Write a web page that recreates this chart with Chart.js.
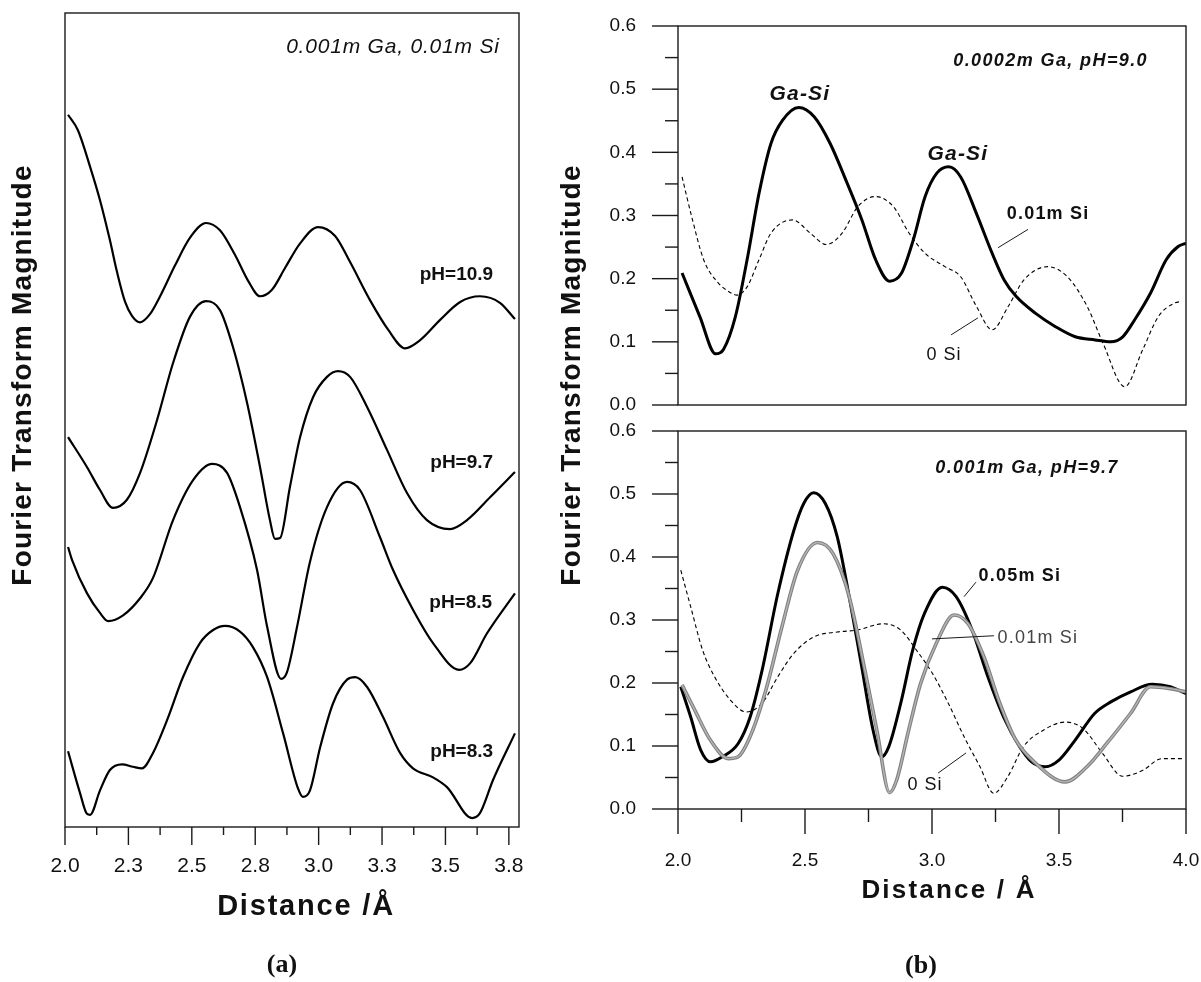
<!DOCTYPE html>
<html>
<head>
<meta charset="utf-8">
<script src="https://cdn.jsdelivr.net/npm/chart.js@4.4.1/dist/chart.umd.min.js"></script>
<style>
  body { margin: 0; background: #fff; }
  #lienzo { position: relative; width: 1201px; height: 982px; background: #fff; }
  #lienzo canvas { position: absolute; }
</style>
</head>
<body>
<div id="lienzo">
  <canvas id="graficoA" width="600" height="982" style="left:0;top:0;width:600px;height:982px"></canvas>
  <canvas id="graficoB1" width="601" height="420" style="left:600px;top:0;width:601px;height:420px"></canvas>
  <canvas id="graficoB2" width="601" height="562" style="left:600px;top:420px;width:601px;height:562px"></canvas>
</div>
<script>
// ---- Datos panel (a): curvas desplazadas, unidades arbitrarias ----
const dist_pH109 = [2.012,2.051,2.099,2.138,2.177,2.205,2.237,2.264,2.296,2.335,2.375,2.434,2.493,2.556,2.611,2.670,2.722,2.769,2.816,2.868,2.927,2.998,3.065,3.124,3.203,3.274,3.341,3.400,3.479,3.558,3.636,3.715,3.774];
const mag_pH109  = [8.75,8.56,8.11,7.70,7.21,6.82,6.45,6.28,6.20,6.30,6.52,6.90,7.24,7.42,7.33,7.03,6.71,6.52,6.60,6.87,7.17,7.37,7.26,6.94,6.47,6.11,5.88,5.98,6.23,6.45,6.52,6.44,6.24];

const dist_pH97 = [2.012,2.087,2.138,2.189,2.244,2.296,2.363,2.426,2.493,2.556,2.611,2.662,2.718,2.769,2.808,2.828,2.848,2.887,2.927,2.978,3.033,3.076,3.124,3.191,3.270,3.349,3.427,3.518,3.585,3.676,3.774];
const mag_pH97  = [4.79,4.42,4.14,3.92,4.02,4.35,5.00,5.70,6.27,6.46,6.35,5.90,5.21,4.42,3.77,3.54,3.55,4.18,4.79,5.28,5.53,5.60,5.53,5.16,4.63,4.10,3.77,3.66,3.77,4.05,4.36];

const dist_pH85 = [2.012,2.028,2.087,2.138,2.170,2.229,2.296,2.347,2.426,2.505,2.580,2.639,2.690,2.757,2.797,2.852,2.875,2.915,2.966,3.033,3.112,3.163,3.242,3.293,3.372,3.451,3.554,3.597,3.664,3.774];
const mag_pH85  = [3.44,3.28,2.87,2.63,2.53,2.60,2.81,3.06,3.77,4.26,4.46,4.35,3.93,3.16,2.46,1.82,1.90,2.46,3.26,3.93,4.24,4.14,3.56,3.16,2.67,2.26,1.93,2.01,2.38,2.87];

const dist_pH83 = [2.012,2.059,2.087,2.099,2.138,2.177,2.225,2.268,2.304,2.347,2.402,2.465,2.532,2.584,2.631,2.690,2.741,2.797,2.860,2.919,2.938,2.966,3.006,3.057,3.112,3.144,3.191,3.254,3.321,3.372,3.451,3.506,3.605,3.636,3.688,3.774];
const mag_pH83  = [0.93,0.42,0.16,0.15,0.45,0.70,0.77,0.74,0.72,0.91,1.31,1.84,2.26,2.42,2.47,2.40,2.21,1.84,1.15,0.47,0.37,0.45,0.98,1.52,1.81,1.84,1.72,1.35,0.91,0.72,0.61,0.49,0.11,0.17,0.58,1.15];

// ---- Datos panel (b) arriba: 0.0002m Ga, pH=9.0 ----
const dist_b1_Si001 = [2.016,2.086,2.148,2.179,2.226,2.272,2.319,2.366,2.412,2.475,2.537,2.599,2.661,2.724,2.778,2.833,2.879,2.926,2.973,3.019,3.066,3.113,3.175,3.237,3.284,3.331,3.408,3.486,3.564,3.642,3.704,3.751,3.798,3.860,3.922,3.969,4.0];
const mag_b1_Si001  = [0.209,0.140,0.081,0.088,0.140,0.230,0.335,0.414,0.451,0.471,0.456,0.414,0.356,0.293,0.230,0.196,0.208,0.261,0.330,0.367,0.377,0.361,0.303,0.240,0.198,0.172,0.145,0.124,0.108,0.103,0.100,0.108,0.135,0.177,0.230,0.251,0.256];
const dist_b1_Si0 = [2.016,2.054,2.101,2.148,2.210,2.233,2.272,2.319,2.366,2.451,2.521,2.584,2.646,2.708,2.778,2.848,2.910,2.973,3.051,3.113,3.175,3.237,3.300,3.362,3.455,3.533,3.611,3.673,3.759,3.829,3.891,3.953,3.984];
const mag_b1_Si0  = [0.361,0.298,0.230,0.198,0.177,0.174,0.187,0.230,0.272,0.293,0.272,0.254,0.272,0.314,0.330,0.314,0.272,0.240,0.219,0.203,0.156,0.119,0.156,0.198,0.219,0.203,0.156,0.098,0.029,0.087,0.140,0.161,0.164];

// ---- Datos panel (b) abajo: 0.001m Ga, pH=9.7 ----
const dist_b2_Si005 = [2.011,2.05,2.089,2.128,2.175,2.237,2.284,2.331,2.393,2.456,2.495,2.534,2.580,2.627,2.674,2.721,2.768,2.802,2.830,2.877,2.924,2.970,3.041,3.095,3.158,3.220,3.282,3.345,3.392,3.446,3.501,3.563,3.641,3.704,3.782,3.867,3.938,4.0];
const mag_b2_Si005  = [0.194,0.146,0.094,0.075,0.083,0.104,0.146,0.220,0.342,0.442,0.485,0.502,0.485,0.432,0.337,0.231,0.125,0.083,0.099,0.168,0.252,0.310,0.352,0.337,0.284,0.210,0.146,0.099,0.075,0.067,0.078,0.109,0.152,0.170,0.186,0.198,0.194,0.183];
const dist_b2_Si001 = [2.016,2.066,2.128,2.198,2.237,2.284,2.346,2.409,2.471,2.549,2.611,2.674,2.736,2.783,2.833,2.861,2.908,2.955,3.017,3.087,3.142,3.204,3.267,3.329,3.407,3.524,3.610,3.688,3.782,3.860,3.938,4.0];
const mag_b2_Si001  = [0.197,0.157,0.109,0.080,0.083,0.115,0.189,0.289,0.379,0.423,0.405,0.337,0.220,0.125,0.026,0.046,0.125,0.199,0.263,0.308,0.294,0.242,0.168,0.110,0.073,0.043,0.067,0.104,0.152,0.194,0.191,0.186];
const dist_b2_Si0 = [2.011,2.05,2.097,2.144,2.206,2.268,2.331,2.393,2.456,2.534,2.627,2.705,2.807,2.877,2.939,3.002,3.064,3.126,3.189,3.243,3.298,3.360,3.438,3.524,3.594,3.672,3.750,3.828,3.906,3.984];
const mag_b2_Si0  = [0.379,0.321,0.252,0.210,0.173,0.154,0.168,0.210,0.247,0.273,0.281,0.284,0.294,0.284,0.252,0.215,0.168,0.115,0.067,0.025,0.051,0.099,0.125,0.138,0.128,0.088,0.052,0.061,0.080,0.080];

// ---- Marcas de los ejes ----
const ticksXIzq = [2.0, 2.25, 2.5, 2.75, 3.0, 3.25, 3.5, 3.75];
const etiquetasXIzq = ['2.0', '2.3', '2.5', '2.8', '3.0', '3.3', '3.5', '3.8'];
const menoresXIzq = [2.125, 2.375, 2.625, 2.875, 3.125, 3.375, 3.625];
const ticksXDer = [2.0, 2.5, 3.0, 3.5, 4.0];
const etiquetasXDer = ['2.0', '2.5', '3.0', '3.5', '4.0'];
const menoresXDer = [2.25, 2.75, 3.25, 3.75];
const ticksYDer = [0, 0.1, 0.2, 0.3, 0.4, 0.5, 0.6];
const etiquetasYDer = ['0.0', '0.1', '0.2', '0.3', '0.4', '0.5', '0.6'];
const menoresYDer = [0.05, 0.15, 0.25, 0.35, 0.45, 0.55];

const SANS = '"Liberation Sans", Arial, sans-serif';
const SERIF = '"Liberation Serif", "Times New Roman", serif';
Chart.defaults.font.family = SANS;
Chart.defaults.color = '#111';

function puntos(xs, ys) {
  return xs.map((x, i) => ({ x: x, y: ys[i] }));
}

function serie(xs, ys, estilo) {
  return Object.assign({
    data: puntos(xs, ys),
    borderColor: '#000',
    borderWidth: 2.2,
    pointRadius: 0,
    fill: false,
    cubicInterpolationMode: 'monotone'
  }, estilo);
}

function dibujarTexto(ctx, t, x, y) {
  ctx.save();
  ctx.font = t.fuente;
  ctx.fillStyle = t.color || '#111';
  ctx.textAlign = t.alinear || 'center';
  ctx.textBaseline = 'middle';
  ctx.letterSpacing = t.espaciado || '0px';
  ctx.translate(x, y);
  if (t.girar) ctx.rotate(t.girar);
  ctx.fillText(t.texto, 0, 0);
  ctx.restore();
}

// Plugin: marco, marcas mayores/menores, notas y rótulos
function crearMarco(cfg) {
  return {
    id: 'marco',
    afterDraw(chart) {
      const ctx = chart.ctx, a = chart.chartArea;
      const sx = chart.scales.x, sy = chart.scales.y;
      const raya = (x1, y1, x2, y2) => { ctx.beginPath(); ctx.moveTo(x1, y1); ctx.lineTo(x2, y2); ctx.stroke(); };
      ctx.save();
      ctx.strokeStyle = '#1a1a1a';
      ctx.lineWidth = 1.4;
      ctx.strokeRect(a.left, a.top, a.right - a.left, a.bottom - a.top);
      (cfg.xMayores || []).forEach(v => { const p = sx.getPixelForValue(v); raya(p, a.bottom, p, a.bottom + cfg.largoX[0]); });
      (cfg.xMenores || []).forEach(v => { const p = sx.getPixelForValue(v); raya(p, a.bottom, p, a.bottom + cfg.largoX[1]); });
      (cfg.yMayores || []).forEach(v => { const p = sy.getPixelForValue(v); raya(a.left - cfg.largoY[0], p, a.left, p); });
      (cfg.yMenores || []).forEach(v => { const p = sy.getPixelForValue(v); raya(a.left - cfg.largoY[1], p, a.left, p); });
      ctx.lineWidth = 1;
      (cfg.guias || []).forEach(g => raya(sx.getPixelForValue(g[0]), sy.getPixelForValue(g[1]), sx.getPixelForValue(g[2]), sy.getPixelForValue(g[3])));
      (cfg.notas || []).forEach(t => dibujarTexto(ctx, t, sx.getPixelForValue(t.x), sy.getPixelForValue(t.y)));
      (cfg.rotulos || []).forEach(t => dibujarTexto(ctx, t, t.x, t.y));
      ctx.restore();
    }
  };
}

function ejeFijo(medida, valor) {
  return function(scale) {
    scale[medida] = valor;
    scale.paddingTop = 0; scale.paddingBottom = 0; scale.paddingLeft = 0; scale.paddingRight = 0;
  };
}

const opcionesBase = {
  responsive: false,
  animation: false,
  devicePixelRatio: 1,
  plugins: { legend: { display: false }, tooltip: { enabled: false } }
};

// ---------- Panel (a) ----------
new Chart(document.getElementById('graficoA'), {
  type: 'line',
  data: {
    datasets: [
      serie(dist_pH109, mag_pH109, {}),
      serie(dist_pH97, mag_pH97, {}),
      serie(dist_pH85, mag_pH85, {}),
      serie(dist_pH83, mag_pH83, {})
    ]
  },
  options: Object.assign({}, opcionesBase, {
    layout: { padding: { left: 65, top: 13, right: 81, bottom: 0 } },
    scales: {
      x: {
        type: 'linear', min: 2.0, max: 3.79,
        afterBuildTicks: s => { s.ticks = ticksXIzq.map(v => ({ value: v })); },
        afterFit: ejeFijo('height', 155),
        grid: { display: false, drawTicks: false },
        border: { display: false },
        ticks: { padding: 27, font: { size: 21 }, maxRotation: 0, callback: (v, i) => etiquetasXIzq[i] }
      },
      y: { type: 'linear', min: 0, max: 10, display: false }
    }
  }),
  plugins: [crearMarco({
    xMayores: ticksXIzq, xMenores: menoresXIzq, largoX: [18, 8],
    notas: [
      { texto: '0.001m Ga, 0.01m Si', x: 3.293, y: 9.58, fuente: 'italic 21px ' + SANS, espaciado: '0.8px' },
      { texto: 'pH=10.9', x: 3.688, y: 6.78, alinear: 'right', fuente: 'bold 19px ' + SANS },
      { texto: 'pH=9.7', x: 3.688, y: 4.47, alinear: 'right', fuente: 'bold 19px ' + SANS },
      { texto: 'pH=8.5', x: 3.684, y: 2.75, alinear: 'right', fuente: 'bold 19px ' + SANS },
      { texto: 'pH=8.3', x: 3.688, y: 0.92, alinear: 'right', fuente: 'bold 19px ' + SANS }
    ],
    rotulos: [
      { texto: 'Fourier Transform Magnitude', x: 23, y: 375, girar: -Math.PI / 2, fuente: 'bold 28px ' + SANS, espaciado: '1.2px' },
      { texto: 'Fourier Transform Magnitude', x: 572, y: 375, girar: -Math.PI / 2, fuente: 'bold 28px ' + SANS, espaciado: '1.2px' },
      { texto: 'Distance /Å', x: 306, y: 907, fuente: 'bold 29px ' + SANS, espaciado: '1.8px' },
      { texto: '(a)', x: 282, y: 965, fuente: 'bold 26px ' + SERIF }
    ]
  })]
});

// ---------- Panel (b) arriba ----------
new Chart(document.getElementById('graficoB1'), {
  type: 'line',
  data: {
    datasets: [
      serie(dist_b1_Si001, mag_b1_Si001, { borderWidth: 3 }),
      serie(dist_b1_Si0, mag_b1_Si0, { borderWidth: 1.1, borderDash: [4, 3] })
    ]
  },
  options: Object.assign({}, opcionesBase, {
    layout: { padding: { left: 0, top: 26, right: 15, bottom: 15 } },
    scales: {
      x: { type: 'linear', min: 2.0, max: 4.0, display: false },
      y: {
        type: 'linear', min: 0, max: 0.6,
        afterBuildTicks: s => { s.ticks = ticksYDer.map(v => ({ value: v })); },
        afterFit: ejeFijo('width', 78),
        grid: { display: false, drawTicks: false },
        border: { display: false },
        ticks: { padding: 42, font: { size: 19 }, callback: (v, i) => etiquetasYDer[i] }
      }
    }
  }),
  plugins: [crearMarco({
    yMayores: ticksYDer, yMenores: menoresYDer, largoY: [26, 13],
    guias: [[3.378, 0.278, 3.260, 0.249], [3.075, 0.111, 3.181, 0.138]],
    notas: [
      { texto: '0.0002m Ga, pH=9.0', x: 3.467, y: 0.544, fuente: 'italic bold 18px ' + SANS, espaciado: '1.4px' },
      { texto: 'Ga-Si', x: 2.480, y: 0.492, fuente: 'italic bold 21px ' + SANS, espaciado: '1.2px' },
      { texto: 'Ga-Si', x: 3.102, y: 0.397, fuente: 'italic bold 21px ' + SANS, espaciado: '1.2px' },
      { texto: '0.01m Si', x: 3.457, y: 0.302, fuente: 'bold 18px ' + SANS, espaciado: '1.2px' },
      { texto: '0 Si', x: 3.047, y: 0.079, fuente: '18px ' + SANS, espaciado: '1px' }
    ]
  })]
});

// ---------- Panel (b) abajo ----------
new Chart(document.getElementById('graficoB2'), {
  type: 'line',
  data: {
    datasets: [
      serie(dist_b2_Si001, mag_b2_Si001, { borderColor: '#b4b4b4', borderWidth: 1.4 }),
      serie(dist_b2_Si001, mag_b2_Si001, { borderColor: '#808080', borderWidth: 3.6 }),
      serie(dist_b2_Si005, mag_b2_Si005, { borderWidth: 3 }),
      serie(dist_b2_Si0, mag_b2_Si0, { borderWidth: 1.1, borderDash: [4, 3] })
    ]
  },
  options: Object.assign({}, opcionesBase, {
    layout: { padding: { left: 0, top: 11, right: 15, bottom: 0 } },
    scales: {
      x: {
        type: 'linear', min: 2.0, max: 4.0,
        afterBuildTicks: s => { s.ticks = ticksXDer.map(v => ({ value: v })); },
        afterFit: ejeFijo('height', 173),
        grid: { display: false, drawTicks: false },
        border: { display: false },
        ticks: { padding: 40, font: { size: 19 }, maxRotation: 0, callback: (v, i) => etiquetasXDer[i] }
      },
      y: {
        type: 'linear', min: 0, max: 0.6,
        afterBuildTicks: s => { s.ticks = ticksYDer.map(v => ({ value: v })); },
        afterFit: ejeFijo('width', 78),
        grid: { display: false, drawTicks: false },
        border: { display: false },
        ticks: { padding: 42, font: { size: 19 }, callback: (v, i) => etiquetasYDer[i] }
      }
    }
  }),
  plugins: [crearMarco({
    xMayores: ticksXDer, xMenores: menoresXDer, largoX: [25, 13],
    yMayores: ticksYDer, yMenores: menoresYDer, largoY: [26, 13],
    guias: [[3.173, 0.360, 3.126, 0.337], [3.244, 0.275, 3.0, 0.270], [3.134, 0.089, 3.024, 0.057]],
    notas: [
      { texto: '0.001m Ga, pH=9.7', x: 3.374, y: 0.541, fuente: 'italic bold 18px ' + SANS, espaciado: '1.4px' },
      { texto: '0.05m Si', x: 3.346, y: 0.370, fuente: 'bold 18px ' + SANS, espaciado: '1.2px' },
      { texto: '0.01m Si', x: 3.417, y: 0.271, fuente: '18px ' + SANS, espaciado: '1.2px', color: '#444' },
      { texto: '0 Si', x: 2.972, y: 0.038, fuente: '18px ' + SANS, espaciado: '1px' }
    ],
    rotulos: [
      { texto: 'Distance / Å', x: 349, y: 471, fuente: 'bold 26px ' + SANS, espaciado: '2.2px' },
      { texto: '(b)', x: 321, y: 546, fuente: 'bold 26px ' + SERIF }
    ]
  })]
});
</script>
</body>
</html>
